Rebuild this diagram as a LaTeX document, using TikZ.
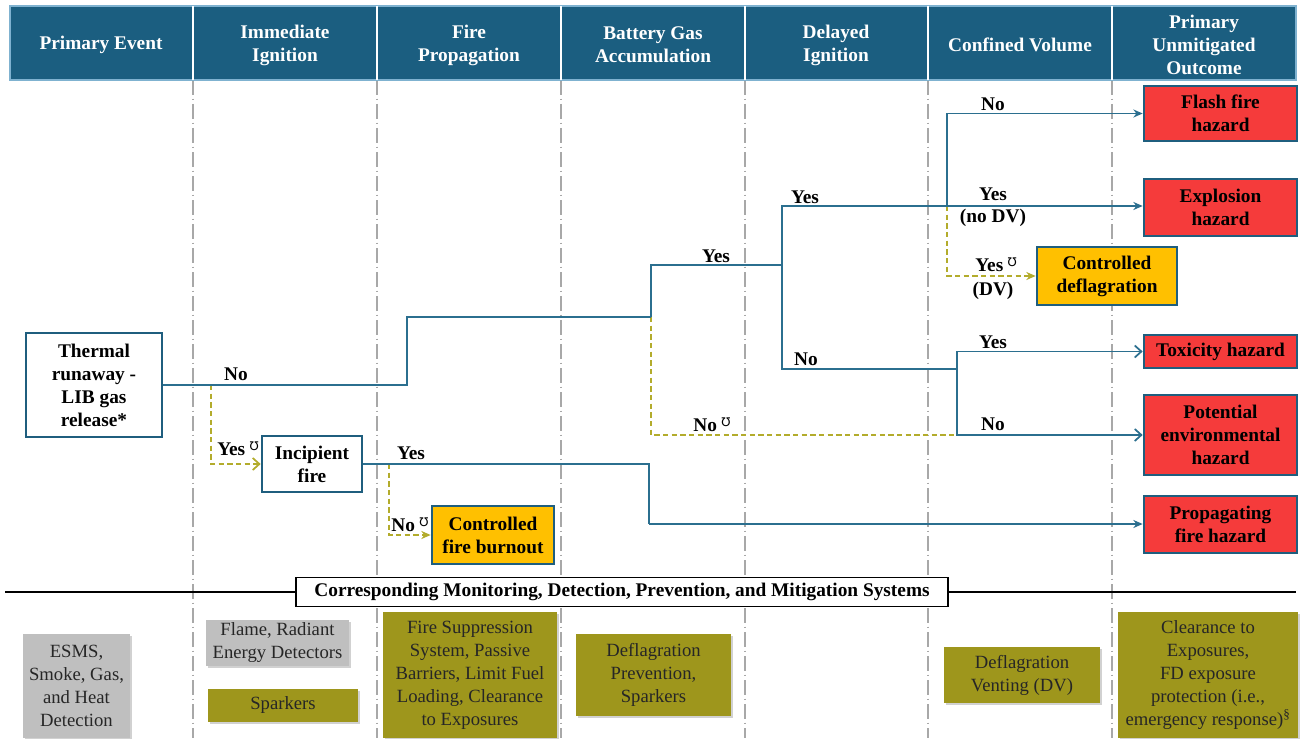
\documentclass[tikz,border=0pt]{standalone}
\usepackage{fontspec}
\setmainfont{Liberation Serif}
\newfontfamily\symfont{DejaVu Sans}
\usetikzlibrary{arrows.meta,shadows}
\newcommand\uvmark{\hspace{0.22em}\raisebox{0.55ex}{\symfont\mdseries\fontsize{9}{9}\selectfont ℧}}

\definecolor{hdrblue}{HTML}{1B5E80}
\definecolor{hdredge}{HTML}{7FB2D0}
\definecolor{edgeblue}{HTML}{1F5E7E}
\definecolor{linkblue}{HTML}{2B6F8F}
\definecolor{hazred}{HTML}{F53B3B}
\definecolor{ctrlorange}{HTML}{FFC000}
\definecolor{olivebox}{HTML}{9E961C}
\definecolor{greybox}{HTML}{BFBFBF}
\definecolor{dashol}{HTML}{B3AC2C}
\definecolor{divgrey}{HTML}{A8A8A8}

\tikzset{
  boldtxt/.style={font=\bfseries\fontsize{14.5}{17.25}\selectfont},
  hdr/.style={boldtxt, text=white, align=center},
  evt/.style={boldtxt, draw=edgeblue, line width=2pt, fill=white, align=center, inner sep=0pt},
  outcome/.style={evt, fill=hazred},
  ctrl/.style={evt, fill=ctrlorange},
  link/.style={draw=linkblue, line width=1.3pt},
  alt/.style={draw=dashol, line width=1.3pt, dash pattern=on 4pt off 2.5pt},
  tipfill/.style={-{Stealth[length=7pt,width=6pt]}},
  tipopen/.style={-{Straight Barb[length=5pt,width=9pt]}},
  lbl/.style={boldtxt, inner sep=0pt},
  sysbox/.style={font=\fontsize{14}{17.25}\selectfont, align=center, inner sep=0pt, text=black!85,
    general shadow={shadow xshift=1.5pt, shadow yshift=-1.5pt, fill=black, opacity=0.18}},
  greyfill/.style={sysbox, fill=greybox},
  olivefill/.style={sysbox, fill=olivebox},
  divider/.style={draw=divgrey, line width=1pt, dash pattern=on 11pt off 3pt on 1pt off 3pt},
}

\begin{document}
\begin{tikzpicture}[x=0.75pt,y=-0.75pt]
\useasboundingbox (0,0) rectangle (1301,738);
\fill[white] (0,0) rectangle (1301,738);

% column dividers
\foreach \cx in {193,377,561,745,928,1112}
  \draw[divider] (\cx,80) -- (\cx,738);

% header band
\fill[hdrblue] (10,6) rectangle (1296,80);
\draw[hdredge, line width=0.8pt] (10,6) rectangle (1296,80);
\foreach \cx in {193,377,561,745,928,1112}
  \draw[white, line width=1.2pt] (\cx,6) -- (\cx,80);
\node[hdr] (h1) at (101,45) {Primary Event};
\node[hdr] (h2) at (285,45) {Immediate\\Ignition};
\node[hdr] (h3) at (469,45) {Fire\\Propagation};
\node[hdr] (h4) at (653,45) {Battery Gas\\Accumulation};
\node[hdr] (h5) at (836,45) {Delayed\\Ignition};
\node[hdr] (h6) at (1020,45) {Confined Volume};
\node[hdr] (h7) at (1204,45) {Primary\\Unmitigated\\Outcome};

% event nodes
\node[evt, minimum width=102pt, minimum height=78pt] (thermal) at (94,385) {Thermal\\runaway -\\LIB gas\\release*};
\node[evt, minimum width=75pt, minimum height=42pt] (incip) at (312,464) {Incipient\\fire};
\node[ctrl, minimum width=91.5pt, minimum height=43.5pt] (burnout) at (493,535) {Controlled\\fire burnout};
\node[ctrl, minimum width=105pt, minimum height=43.5pt] (ctrldef) at (1107,276) {Controlled\\deflagration};

% outcome nodes
\node[outcome, minimum width=114.75pt, minimum height=41.25pt] (flash) at (1220.5,113.5) {Flash fire\\hazard};
\node[outcome, minimum width=114.75pt, minimum height=42.75pt] (explo) at (1220.5,207.5) {Explosion\\hazard};
\node[outcome, minimum width=114.75pt, minimum height=24.75pt] (toxic) at (1220.5,351.5) {Toxicity hazard};
\node[outcome, minimum width=114.75pt, minimum height=60pt] (envhaz) at (1220.5,435) {Potential\\environmental\\hazard};
\node[outcome, minimum width=114.75pt, minimum height=42.75pt] (propag) at (1220.5,524.5) {Propagating\\fire hazard};

% branch points
\coordinate (jI) at (211,385);
\coordinate (jB) at (651,317);
\coordinate (jD) at (782,265);
\coordinate (jC1) at (947,206);
\coordinate (jC2) at (957,369);
\coordinate (jE) at (957,435);
\coordinate (jF) at (389,464);
\coordinate (jP) at (649,524);

% dashed (mitigated) branches
\draw[alt, tipopen] (jI) |- (incip.west);
\draw[alt, tipfill] (jF) |- (burnout.west);
\draw[alt] (jB) |- (jE);
\draw[alt, tipfill] (jC1) |- (ctrldef.west);

% solid branches
\draw[link] (thermal.east) -| (407,317) -- (jB);
\draw[link] (jB) |- (jD);
\draw[link] (jD) |- (jC1);
\draw[link] (jD) |- (jC2);
\draw[link, tipfill] (jC1) |- (flash.west);
\draw[link, tipfill] (jC1) -- (jC1 -| explo.west);
\draw[link, tipopen] (jC2) |- (toxic.west);
\draw[link, tipopen] (jC2) |- (envhaz.west);
\draw[link] (incip.east) -| (jP);
\draw[link, tipfill] (jP) -- (jP -| propag.west);

% branch labels
\node[lbl] (l1) at (236,374) {No};
\node[lbl] (l2) at (238,449) {Yes\uvmark};
\node[lbl] (l3) at (411,453) {Yes};
\node[lbl] (l4) at (410,525) {No\uvmark};
\node[lbl] (l5) at (716,256) {Yes};
\node[lbl] (l6) at (712,425) {No\uvmark};
\node[lbl] (l7) at (805,197) {Yes};
\node[lbl] (l8) at (806,359) {No};
\node[lbl] (l9) at (993,104) {No};
\node[lbl] (l10) at (993,194) {Yes};
\node[lbl] (l11) at (993,218) {(no DV)};
\node[lbl] (l12) at (996,265) {Yes\uvmark};
\node[lbl] (l13) at (993,291) {(DV)};
\node[lbl] (l14) at (993,342) {Yes};
\node[lbl] (l15) at (993,424) {No};

% systems section
\draw[black, line width=1.3pt] (5,592) -- (1296,592);
\node[draw=black, line width=0.8pt, fill=white, font=\bfseries\fontsize{14.5}{17}\selectfont,
      minimum width=489pt, minimum height=21.75pt, inner sep=0pt] (systitle) at (622,592)
  {Corresponding Monitoring, Detection, Prevention, and Mitigation Systems};

\node[greyfill, minimum width=80.25pt, minimum height=78pt] (esms) at (76.5,686)
  {ESMS,\\Smoke, Gas,\\and Heat\\Detection};
\node[greyfill, minimum width=107.25pt, minimum height=34.5pt] (flame) at (277.5,643)
  {Flame, Radiant\\Energy Detectors};
\node[olivefill, minimum width=112.5pt, minimum height=24.75pt] (spark1) at (283,705.5)
  {Sparkers};
\node[olivefill, minimum width=130.5pt, minimum height=94.5pt] (suppr) at (470,675)
  {Fire Suppression\\System, Passive\\Barriers, Limit Fuel\\Loading, Clearance\\to Exposures};
\node[olivefill, minimum width=116.25pt, minimum height=61.5pt] (defprev) at (653.5,675)
  {Deflagration\\Prevention,\\Sparkers};
\node[olivefill, minimum width=117pt, minimum height=42pt] (defvent) at (1022,675)
  {Deflagration\\Venting (DV)};
\node[olivefill, minimum width=135pt, minimum height=94.5pt] (clear) at (1208,675)
  {Clearance to\\Exposures,\\FD exposure\\protection (i.e.,\\emergency response)\textsuperscript{\S}};
\end{tikzpicture}
\end{document}
